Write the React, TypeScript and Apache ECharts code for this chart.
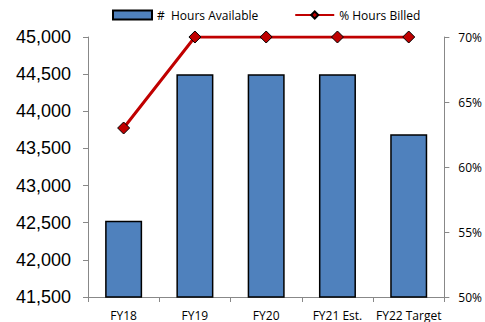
import React, { useEffect, useRef } from "react";
import * as echarts from "echarts";

const categories = ["FY18", "FY19", "FY20", "FY21 Est.", "FY22 Target"];
const hoursAvailable = [42525, 44500, 44500, 44500, 43690];
const pctBilled = [63, 70, 70, 70, 70];
const leftTicks = { min: 41500, max: 45000, interval: 500 };
const rightTicks = { min: 50, max: 70, interval: 5 };

export default function App() {
  const ref = useRef<HTMLDivElement>(null);
  useEffect(() => {
    const chart = echarts.init(ref.current!, null, { renderer: "svg" });
    const small = "'Open Sans', 'Noto Sans', sans-serif";
    chart.setOption({
      animation: false,
      backgroundColor: "#ffffff",
      legend: {
        top: 4,
        left: 107,
        itemGap: 36,
        itemWidth: 39,
        itemHeight: 9,
        textStyle: { fontFamily: small, fontSize: 12, color: "#000" },
        data: [
          { name: "#  Hours Available", icon: "rect" },
          { name: "% Hours Billed" },
        ],
      },
      grid: { left: 88, right: 39, top: 37, bottom: 25 },
      xAxis: {
        type: "category",
        data: categories,
        axisLine: { lineStyle: { color: "#888", width: 1 } },
        axisTick: { show: true, alignWithLabel: false, length: 5, lineStyle: { color: "#888" } },
        axisLabel: { fontFamily: small, fontSize: 12, color: "#000", margin: 12, interval: 0 },
      },
      yAxis: [
        {
          type: "value",
          min: leftTicks.min,
          max: leftTicks.max,
          interval: leftTicks.interval,
          splitLine: { show: false },
          axisLine: { show: true, lineStyle: { color: "#888" } },
          axisTick: { show: true, length: 5, lineStyle: { color: "#888" } },
          axisLabel: {
            fontFamily: "'Liberation Sans', Arial, sans-serif",
            fontSize: 18,
            color: "#000",
            margin: 17,
            formatter: (v: number) => v.toLocaleString("en-US"),
          },
        },
        {
          type: "value",
          position: "right",
          min: rightTicks.min,
          max: rightTicks.max,
          interval: rightTicks.interval,
          splitLine: { show: false },
          axisLine: { show: true, lineStyle: { color: "#888" } },
          axisTick: { show: true, length: 5, inside: false, lineStyle: { color: "#888" } },
          axisLabel: {
            fontFamily: small,
            fontSize: 12,
            color: "#000",
            margin: 14,
            formatter: (v: number) => v + "%",
          },
        },
      ],
      series: [
        {
          name: "#  Hours Available",
          type: "bar",
          data: hoursAvailable,
          barWidth: 37,
          itemStyle: { color: "#4f81bd", borderColor: "#000", borderWidth: 1.5 },
        },
        {
          name: "% Hours Billed",
          type: "line",
          yAxisIndex: 1,
          data: pctBilled,
          symbol: "diamond",
          symbolSize: 12,
          lineStyle: { color: "#c00000", width: 3 },
          itemStyle: { color: "#c00000", borderColor: "#000", borderWidth: 1 },
        },
      ],
    });
    return () => chart.dispose();
  }, []);
  return (
    <div
      ref={ref}
      style={{ position: "absolute", left: 0, top: 0, width: 485, height: 322 }}
    />
  );
}
